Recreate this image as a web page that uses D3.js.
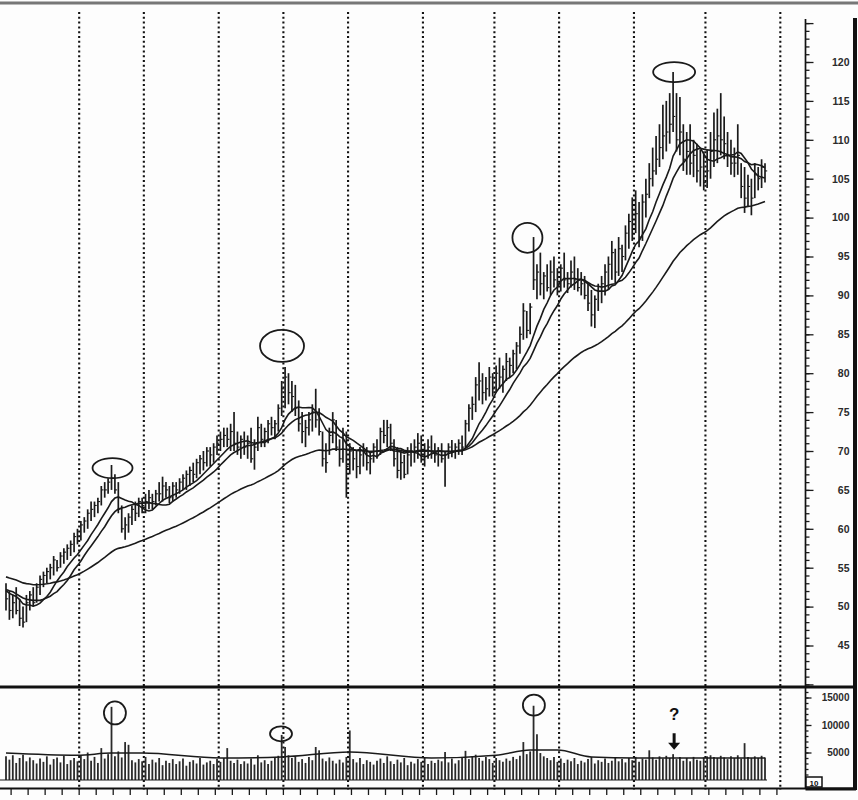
<!DOCTYPE html>
<html><head><meta charset="utf-8">
<script src="https://cdn.jsdelivr.net/npm/d3@7"></script>
<style>body{margin:0;background:#fff}svg{display:block}</style>
</head><body>
<svg id="c" width="858" height="800"></svg>
<script>
// ---------- DATA ----------
const highs = [
53,52,51.5,52.5,51,50,51.5,52,52.5,53,
54,54.5,55,55.5,56.5,56,57,57.5,58,58.5,
59.5,60,61,61.5,62.5,63.5,63.5,64,65.5,66,
66.5,68.2,67,66,63,61.5,62,63,63.5,64,
64,64.5,65,64.5,65,66,66.7,66,65.5,66,
66,66.5,67,67.5,68,68.5,69,69.5,70,70.5,
70.5,71,72,72.5,73,73,73.5,75,72.5,72,
72.5,72,73,71.5,74.4,73.5,73,74,74.4,74,
76,79,80.8,80,79,78.5,76.5,75,74,75,
76,78,75.5,72.5,71,73,75,74,71.5,73,
72.5,71,70.5,70,70.5,71,70.5,70,71,71.5,
73,74,74,73.5,71.5,70.5,70,69.5,70.5,71,
71.5,72.3,72,71,71.5,72,71,70.5,71,70,
71,71.4,71,71.5,72,74,76,77,79.5,81.4,
80,79.5,80.8,80,81,82,81,82.6,82,83,
84,86,89,88,89,97.5,94,95.5,93,94,
94.5,95,93.5,94,95.5,93,94.5,95,93.5,93,
92.5,91.5,90.7,90,91.5,92.5,94,95,97,96,
97.5,96.5,99,100.5,102.6,103.5,102,103,105,107,
109,110.5,112,114.5,115,116,118.7,116,115.5,112,
111,112,110,109.5,108.7,108.5,108.7,111,113.5,114,
116,113,111,110,109,112,107,106.5,105.5,105,
107,106.5,107.5,107];
const lows = [
49.5,48.3,48.5,49,47.5,47.3,48,49.5,50,50.5,
51.5,52.5,53,53.5,54,54.5,55,55.5,56,56.5,
57,58,58.5,59.5,60,61,61.5,62,63,64,
64.5,65,64.5,62,59.5,58.6,59.5,60.5,61,61.5,
62,62,62.5,62.5,63,63.5,63.5,64,63.3,63.5,
64,64.5,65,65,65.5,66,66.5,67,67.5,68,
68,68.5,69.5,70,70.5,70.5,70,70,69.5,69,
69.5,69,68.5,67.6,70,70.5,70.5,71,72,71.5,
72.5,74.5,75.5,76,75,74.5,72.5,71,70.5,72,
72.5,73,72,68,67.2,69.5,71,70,68,68.5,
64,67,67.5,66.5,67,68,67.5,67,68.5,69,
69.5,71,70.5,70,68,66.5,66.3,66.5,67,68,
68.5,69,68.5,68,69,69,68.5,68,68.5,65.4,
69,69.2,69,69.5,69.5,70.5,72.5,74,75,76.5,
76,76.5,77,77,77.5,78,77.5,79,79.5,80,
80.5,82.5,84.3,84.5,85,90.7,89.5,90,89.5,90.5,
90,91,90,90.5,91,90.3,91,90.7,90.5,90,
89.5,88,86,85.8,88,89,90,90.7,92,91.5,
92.5,93,94.5,96,97,98,96.2,97,100,102.5,
104,105.5,106.5,107.5,108.5,109.5,111,108.5,108,106,
105.5,105.5,105.2,104.5,104,103.5,103.8,105,106.5,107,
108,107.5,106.5,105.5,105.2,105.5,102.5,100.6,101.5,100.3,
102.5,103.5,103.8,104.5];
const closes = [
51,49.5,50.5,49.5,48.5,48,50.5,51.5,50.5,52.5,
53.5,54,54.5,55,56,55,56.5,57,57.5,58,
59,58.5,60.5,61,62,62.5,63,63.5,65,65,
66,66.5,65,62.5,60,60.5,61.5,62.5,62,63.5,
63,63.5,64,63.5,64.5,64.5,65.5,65,64,65.5,
65,66,66.5,67,67.5,67,68.5,69,68.5,70,
69.5,70.5,71,71.5,72,71.5,72.5,71,70.5,71.5,
70.5,71,69,70.5,73,71.5,72.5,73.5,73,73.5,
75.5,78,79.5,77.5,77,75.5,73.5,72.5,73,74,
75,74,72.5,69,68.5,72,74,70.5,69,72,
68,70,69,68,69.5,70,68.5,69,70.5,70,
72.5,72,73,71,69,67.5,68.5,67,69.5,70,
70.5,71,69.5,70,70.5,70,69.5,70,69,69.5,
70.5,70,70.5,71,70.5,73.5,75.5,76,78.5,79,
77.5,78,79.5,78,80,79.5,80.5,81.5,81,82.5,
83.5,85,88,85.5,88.5,92,93,91.5,92.5,91,
93,92,91.5,93.5,92,91.5,93,92,91,91.5,
90,89,87.5,89.5,90.5,91.5,93,94,95.5,93,
96,95,98,99.5,101,100.5,97.5,102,103,105,
106,107.5,109,110.5,111,112,113,110,111,107.5,
108.5,107,108,106,106.5,104.5,106,108.5,110,110.5,
110,109.5,108,107,107,108,104,102.5,104,102.5,
105.5,105,106.5,106];
// closes before the first drawn bar (feed the moving averages)
const closeHistory = [
57,57.5,56.5,57,58,57,56.5,57.5,56,55.5,
56,55,55.5,54.5,55,54,53.5,54.5,55,54,
53.5,54,53,54.5,55,54,53.5,52.5,53,54,
53.5,52.5,53,54,53,52,52.5,53.5,52.5,52,
53,52.5,51.5,52.5,53.5,52,51.5,52,51];
const volumes = [
4300,3700,4500,3100,4000,4600,3400,4100,3600,3000,
3900,3300,4300,2800,3800,4100,3200,4400,2900,3600,
4000,3400,4500,3800,5000,3500,4200,3100,5800,3900,
4700,13300,4300,5200,4100,6900,6400,3600,3200,3800,
3400,4200,2900,3700,3200,4000,2700,3500,3100,3800,
2900,3400,3900,2600,3300,3600,3000,4000,2800,3200,
3500,2900,3800,3300,4000,5800,3500,3100,3700,2900,
3400,3000,3900,2800,4500,3200,3600,2900,3500,4000,
4400,8200,6000,4500,4000,4300,3300,3800,3100,4200,
3600,6000,5400,3900,3400,4100,3500,3000,3700,3200,
4200,9000,3800,3200,4000,2900,3600,3300,2800,3500,
3900,3100,4300,3400,2900,3700,3200,4000,2700,3300,
3000,3800,3300,4000,2900,3500,3100,3700,3400,5100,
3200,3900,3000,3600,4100,5300,3800,4300,4600,4000,
3500,4200,3800,3100,4000,3600,3300,3900,3500,4200,
3800,4400,6900,4700,5200,13500,8300,4900,4300,4000,
3600,4200,3300,3900,3100,3700,3400,4000,2900,3500,
3200,3800,4200,3000,3600,3300,3900,3100,3500,4100,
3400,3800,3200,4000,3600,4200,3300,3900,3700,5400,
4100,3700,4300,3900,4400,4000,4700,3800,4200,3500,
4000,3400,4200,3700,3500,4100,4300,4500,4200,4000,
4400,4100,3800,4300,4000,4500,3900,6700,4200,4000,
4300,4000,4400,4100];
const smaPeriods = [10, 15];   // fast and medium averages
const emaPeriod = 55;          // slow average
const volAvgIdx = [0,21,31,40,63,81,101,125,144,154,162,172,185,206,223];
const volAvg    = [4900,4500,4900,4900,4000,4200,5100,4000,4500,5450,5450,4200,4000,4000,4000];
const monthStarts = [22,41,63,82,101,123,144,163,185,206,228];
const priceTicks = [45,50,55,60,65,70,75,80,85,90,95,100,105,110,115,120];
const volumeTicks = [5000,10000,15000];
const priceMarkIdx = [31.3, 81.1, 153.2, 196.3];
const priceMarkVal = [67.8, 83.5, 97.4, 118.7];
const volMarkIdx = [32, 80.8, 155.1];
const volMarkVal = [12200, 8400, 13600];
const questionIdx = 196.3, questionVal = 11000;
const arrowIdx = 196.3, arrowFrom = 8500, arrowTo = 5500;
const boxLabel = "10";

// ---------- DRAW ----------
const svg = d3.select('#c');
const ink = '#1a1a1a';
const x = d3.scaleLinear().domain([0, highs.length - 1]).range([6, 765]);
const y = d3.scaleLinear().domain([45, 120]).range([645.5, 62]);
const yv = d3.scaleLinear().domain([0, 15000]).range([780, 697.5]);

svg.append('rect').attr('width', 858).attr('height', 800).attr('fill', '#fdfdfd');
svg.append('line').attr('x1', 0).attr('x2', 858).attr('y1', 3).attr('y2', 3)
  .attr('stroke', '#777').attr('stroke-width', 3);

// month grid
svg.append('g').selectAll('line').data(monthStarts).join('line')
  .attr('x1', d => x(d - 0.5)).attr('x2', d => x(d - 0.5))
  .attr('y1', 12).attr('y2', 790)
  .attr('stroke', '#111').attr('stroke-width', 2.1).attr('stroke-dasharray', '2,2.8');

// moving averages
const allCloses = closeHistory.concat(closes);
const H0 = closeHistory.length;
const sma = n => closes.map((c, i) => d3.mean(allCloses.slice(H0 + i - n + 1, H0 + i + 1)));
const ema = n => {
  const a = 2 / (n + 1);
  let e = d3.mean(closeHistory.slice(0, 10));
  const out = [];
  allCloses.forEach((c, i) => { e = e + a * (c - e); if (i >= H0) out.push(e); });
  return out;
};
const line = d3.line().x((d, i) => x(i)).y(d => y(d));
smaPeriods.map(sma).concat([ema(emaPeriod)]).forEach(s => {
  svg.append('path').attr('d', line(s)).attr('fill', 'none')
    .attr('stroke', ink).attr('stroke-width', 1.6);
});

// price bars
const bars = svg.append('g');
bars.selectAll('line.hl').data(highs).join('line').attr('class', 'hl')
  .attr('x1', (d, i) => x(i)).attr('x2', (d, i) => x(i))
  .attr('y1', d => y(d)).attr('y2', (d, i) => y(lows[i]))
  .attr('stroke', ink).attr('stroke-width', 1.7);
bars.selectAll('line.cl').data(closes).join('line').attr('class', 'cl')
  .attr('x1', (d, i) => x(i)).attr('x2', (d, i) => x(i) + 2.2)
  .attr('y1', d => y(d)).attr('y2', d => y(d))
  .attr('stroke', ink).attr('stroke-width', 1.1);

// volume bars
svg.append('g').selectAll('line').data(volumes).join('line')
  .attr('x1', (d, i) => x(i)).attr('x2', (d, i) => x(i))
  .attr('y1', yv(0)).attr('y2', d => yv(d))
  .attr('stroke', '#2a2a2a').attr('stroke-width', 1.8);
svg.append('line').attr('x1', 0).attr('x2', x(highs.length - 1) + 2)
  .attr('y1', yv(0)).attr('y2', yv(0)).attr('stroke', ink).attr('stroke-width', 1.2);
const vline = d3.line().x(d => x(d[0])).y(d => yv(d[1])).curve(d3.curveMonotoneX);
svg.append('path').attr('d', vline(volAvgIdx.map((d, i) => [d, volAvg[i]])))
  .attr('fill', 'none').attr('stroke', ink).attr('stroke-width', 1.5);

// panel frame
svg.append('line').attr('x1', 0).attr('x2', 856).attr('y1', 687).attr('y2', 687)
  .attr('stroke', '#111').attr('stroke-width', 3);
svg.append('line').attr('x1', 0).attr('x2', 856).attr('y1', 788.5).attr('y2', 788.5)
  .attr('stroke', '#111').attr('stroke-width', 2);
svg.append('line').attr('x1', 805.5).attr('x2', 856).attr('y1', 789).attr('y2', 789)
  .attr('stroke', '#111').attr('stroke-width', 3);
svg.append('line').attr('x1', 855).attr('x2', 855).attr('y1', 18).attr('y2', 790)
  .attr('stroke', '#111').attr('stroke-width', 4);
svg.append('line').attr('x1', 805.5).attr('x2', 805.5).attr('y1', 19).attr('y2', 789)
  .attr('stroke', '#111').attr('stroke-width', 1.7);

// bottom time ticks (weekly)
const weekTicks = d3.range(1.5, 229, 5);
svg.append('g').selectAll('line').data(weekTicks).join('line')
  .attr('x1', d => x(d)).attr('x2', d => x(d)).attr('y1', 789).attr('y2', 795)
  .attr('stroke', ink).attr('stroke-width', 1.3);

// right price axis
const font = '"Liberation Sans", Arial, sans-serif';
const minorAx = d3.axisRight(y).tickValues(d3.range(40, 126)).tickSize(4).tickFormat('');
const majorAx = d3.axisRight(y).tickValues(priceTicks.concat([125, 40])).tickSize(8)
  .tickFormat(d => priceTicks.includes(d) ? d3.format('d')(d) : '');
[minorAx, majorAx].forEach(ax => {
  const g = svg.append('g').attr('transform', 'translate(805.5,0)').call(ax);
  g.select('.domain').remove();
  g.selectAll('.tick line').attr('stroke', ink).attr('stroke-width', 1.3);
  g.selectAll('text').attr('x', 44).attr('text-anchor', 'end')
    .attr('font-family', font).attr('font-size', 10.5).attr('font-weight', 'bold').attr('fill', '#2b2b2b');
});

// right volume axis
const vMinor = d3.axisRight(yv).tickValues(d3.range(1000, 16001, 1000)).tickSize(3).tickFormat('');
const vMajor = d3.axisRight(yv).tickValues(volumeTicks).tickSize(6).tickFormat(d3.format('d'));
[vMinor, vMajor].forEach(ax => {
  const g = svg.append('g').attr('transform', 'translate(805.5,0)').call(ax);
  g.select('.domain').remove();
  g.selectAll('.tick line').attr('stroke', ink).attr('stroke-width', 1.3);
  g.selectAll('text').attr('x', 44).attr('text-anchor', 'end')
    .attr('font-family', font).attr('font-size', 10).attr('font-weight', 'bold').attr('fill', '#2b2b2b');
});

// scale box at the bottom right
svg.append('rect').attr('x', 806).attr('y', 777).attr('width', 16).attr('height', 10)
  .attr('fill', '#fff').attr('stroke', '#111').attr('stroke-width', 1.5);
svg.append('text').attr('x', 814).attr('y', 785.5).attr('text-anchor', 'middle')
  .attr('font-family', font).attr('font-size', 8).attr('font-weight', 'bold').attr('fill', '#111').text(boxLabel);

// annotations: circled highs
const pr = [[20, 10], [22, 16], [15, 15], [21, 10]];
svg.append('g').selectAll('ellipse').data(priceMarkIdx).join('ellipse')
  .attr('cx', d => x(d)).attr('cy', (d, i) => y(priceMarkVal[i]))
  .attr('rx', (d, i) => pr[i][0]).attr('ry', (d, i) => pr[i][1])
  .attr('fill', 'none').attr('stroke', ink).attr('stroke-width', 1.8);
const vr = [[11, 11.5], [11, 7.5], [11, 10.5]];
svg.append('g').selectAll('ellipse').data(volMarkIdx).join('ellipse')
  .attr('cx', d => x(d)).attr('cy', (d, i) => yv(volMarkVal[i]))
  .attr('rx', (d, i) => vr[i][0]).attr('ry', (d, i) => vr[i][1])
  .attr('fill', 'none').attr('stroke', ink).attr('stroke-width', 1.8);

// question mark and arrow
svg.append('text').attr('x', x(questionIdx)).attr('y', yv(questionVal)).attr('text-anchor', 'middle')
  .attr('font-family', font).attr('font-size', 17).attr('font-weight', 'bold').attr('fill', '#111').text('?');
svg.append('line').attr('x1', x(arrowIdx)).attr('x2', x(arrowIdx))
  .attr('y1', yv(arrowFrom)).attr('y2', yv(arrowTo) - 5)
  .attr('stroke', '#111').attr('stroke-width', 3);
const ax0 = x(arrowIdx), ay = yv(arrowTo);
svg.append('path').attr('d', `M${ax0 - 6},${ay - 7}L${ax0 + 6},${ay - 7}L${ax0},${ay}Z`).attr('fill', '#111');
</script>
</body></html>
